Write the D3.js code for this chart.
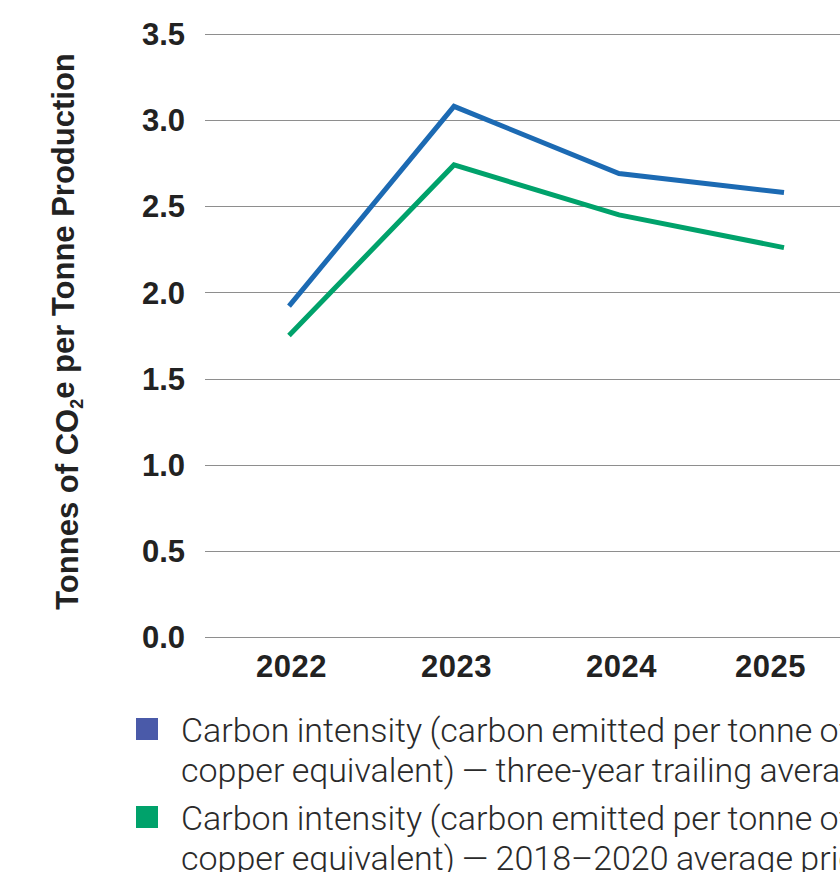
<!DOCTYPE html>
<html>
<head>
<meta charset="utf-8">
<script src="https://cdn.jsdelivr.net/npm/d3@7"></script>
<style>
  html, body { margin: 0; padding: 0; background: #fff; overflow: hidden; }
  svg { display: block; }
  .tick-label { font-family: "Liberation Sans", Arial, sans-serif; font-weight: 700; fill: #222; }
  .legend-text { font-family: "Roboto", "Liberation Sans", sans-serif; font-weight: 300; fill: #2a2a2a; }
</style>
</head>
<body>
<svg id="chart" width="840" height="872"></svg>
<script>
// Reporting years
const years = ["2022", "2023", "2024", "2025"];
// Carbon intensity, three-year trailing average prices (t CO2e per t production)
const trailingAvg = [1.92, 3.08, 2.69, 2.58];
// Carbon intensity, 2018–2020 average prices
const baselineAvg = [1.75, 2.74, 2.45, 2.26];
// Value axis ticks
const yTicks = [0, 0.5, 1.0, 1.5, 2.0, 2.5, 3.0, 3.5];

const seriesNames = [
  ["Carbon intensity (carbon emitted per tonne of", "copper equivalent) — three-year trailing average prices"],
  ["Carbon intensity (carbon emitted per tonne of", "copper equivalent) — 2018–2020 average prices"]
];
const lineColors = ["#1c6ab3", "#00a26b"];
const swatchColors = ["#4a5aa9", "#00a26b"];

const svg = d3.select("#chart");
const plot = { left: 205, right: 860, top: 34, bottom: 637 };

const y = d3.scaleLinear().domain([0, 3.5]).range([plot.bottom, plot.top]);
const x = d3.scalePoint().domain(years).range([289, 784]);

// Gridlines
svg.append("g")
  .selectAll("line")
  .data(yTicks)
  .join("line")
  .attr("x1", plot.left)
  .attr("x2", plot.right)
  .attr("y1", d => Math.round(y(d)) + 0.5)
  .attr("y2", d => Math.round(y(d)) + 0.5)
  .attr("stroke", "#8e8e8e")
  .attr("stroke-width", 1);

// Y tick labels
svg.append("g")
  .selectAll("text")
  .data(yTicks)
  .join("text")
  .attr("class", "tick-label")
  .attr("x", 185)
  .attr("y", d => y(d))
  .attr("dy", "0.36em")
  .attr("text-anchor", "end")
  .style("font-size", "31px")
  .text(d => d3.format(".1f")(d));

// X tick labels
const xAxis = d3.axisBottom(x).tickSize(0).tickPadding(0);
const gx = svg.append("g")
  .attr("transform", `translate(0, ${plot.bottom + 29})`)
  .call(xAxis);
gx.select(".domain").remove();
gx.selectAll("text")
  .attr("class", "tick-label")
  .attr("fill", null)
  .attr("dy", "0.36em")
  .style("font-size", "31px")
  .style("letter-spacing", "0.5px")
  .attr("dx", (d, i) => i === years.length - 1 ? -14 : 2);

// Y axis title
const title = svg.append("text")
  .attr("class", "tick-label")
  .attr("transform", `translate(78, ${(48 + 615) / 2}) rotate(-90)`)
  .attr("text-anchor", "middle")
  .style("font-size", "31px");
title.append("tspan").text("Tonnes of CO");
title.append("tspan").attr("dy", "0.3em").style("font-size", "18px").text("2");
title.append("tspan").attr("dy", "-0.3em").text("e per Tonne Production");

// Series lines
const line = d3.line()
  .x((d, i) => x(years[i]))
  .y(d => y(d));

[trailingAvg, baselineAvg].forEach((vals, k) => {
  svg.append("path")
    .datum(vals)
    .attr("d", line)
    .attr("fill", "none")
    .attr("stroke", lineColors[k])
    .attr("stroke-width", 5)
    .attr("stroke-linejoin", "miter")
    .attr("stroke-linecap", "butt");
});

// Legend
const legend = svg.append("g");
seriesNames.forEach((lines, k) => {
  const top = 718 + k * 88;
  legend.append("rect")
    .attr("x", 136).attr("y", top)
    .attr("width", 22).attr("height", 22)
    .attr("fill", swatchColors[k]);
  const t = legend.append("text")
    .attr("class", "legend-text")
    .attr("x", 181)
    .attr("y", top + 24)
    .style("font-size", "34px")
    .style("word-spacing", "-1px");
  lines.forEach((s, j) => {
    t.append("tspan").attr("x", 181).attr("dy", j === 0 ? 0 : 40).text(s);
  });
});
</script>
</body>
</html>
